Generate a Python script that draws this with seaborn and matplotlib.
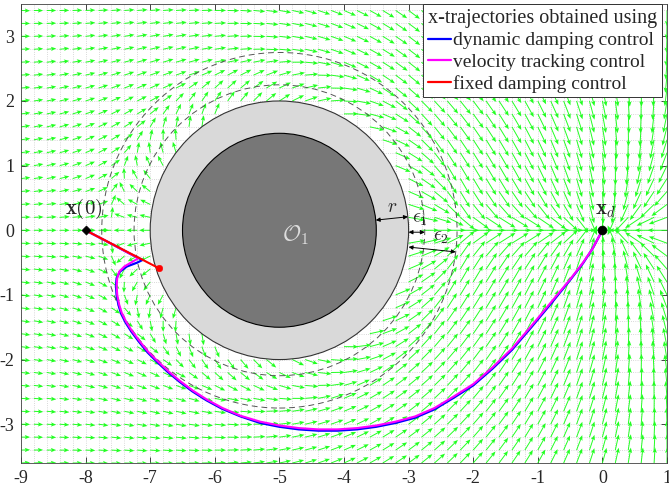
import numpy as np
import matplotlib
matplotlib.use('Agg')
import matplotlib.pyplot as plt
import seaborn as sns
from matplotlib.patches import Circle

# ---- scene ----
goal = (0.0, 0.0)
start = (-8.0, 0.0)
obs_center = (-5.0, 0.0)
r_core = 1.5      # dark disc
r_obs = 2.0       # light grey disc (radius r)
r_eps1 = 2.25     # r + eps1
r_eps2 = 2.75     # r + eps2

# ---- trajectories ----
dyn_x = [-8.0, -7.6, -7.3, -7.12, -7.2, -7.36, -7.47, -7.52, -7.53, -7.52, -7.49, -7.45,
         -7.38, -7.29, -7.17, -7.04, -6.89, -6.73, -6.55, -6.35, -6.13, -5.89, -5.6, -5.3,
         -5.0, -4.7, -4.4, -4.1, -3.8, -3.5, -3.2, -2.9, -2.6, -2.3, -2.0, -1.7, -1.4,
         -1.1, -0.8, -0.5, -0.3, -0.15, 0.0]
dyn_y = [0.0, -0.21, -0.37, -0.46, -0.50, -0.56, -0.64, -0.74, -0.86, -1.01, -1.16, -1.29,
         -1.43, -1.57, -1.73, -1.89, -2.04, -2.19, -2.34, -2.49, -2.63, -2.76, -2.88, -2.98,
         -3.04, -3.08, -3.10, -3.10, -3.08, -3.04, -2.98, -2.90, -2.77, -2.59, -2.40, -2.14,
         -1.85, -1.50, -1.14, -0.77, -0.51, -0.28, 0.0]
vel_x = [-8.0, -7.6, -7.3, -7.18, -7.28, -7.40, -7.48, -7.51, -7.52, -7.51, -7.48, -7.44,
         -7.37, -7.28, -7.16, -7.03, -6.88, -6.72, -6.54, -6.34, -6.12, -5.88, -5.6, -5.3,
         -5.0, -4.7, -4.4, -4.1, -3.8, -3.5, -3.2, -2.9, -2.6, -2.3, -2.0, -1.7, -1.4,
         -1.1, -0.8, -0.5, -0.3, -0.15, 0.0]
vel_y = [0.0, -0.21, -0.37, -0.43, -0.49, -0.56, -0.64, -0.74, -0.86, -1.00, -1.15, -1.28,
         -1.42, -1.56, -1.72, -1.88, -2.03, -2.18, -2.33, -2.48, -2.62, -2.75, -2.87, -2.96,
         -3.02, -3.06, -3.08, -3.08, -3.06, -3.02, -2.96, -2.88, -2.75, -2.57, -2.38, -2.12,
         -1.83, -1.48, -1.12, -0.76, -0.50, -0.28, 0.0]
fix_x = [-8.0, -6.86]
fix_y = [0.0, -0.59]

legend_title = 'x-trajectories obtained using'
labels = ['dynamic damping control', 'velocity tracking control', 'fixed damping control']
colors = ['#0000ff', '#ff00ff', '#ff0000']
x_ticks = list(range(-9, 2))
y_ticks = list(range(-3, 4))

# quiver grid
grid_x = np.arange(-9.0, 1.001, 0.2)
grid_y = np.arange(-3.6, 3.401, 0.2)
k_rep = 1.2


def nav_field(X, Y):
    # attraction to goal, modulated around the obstacle, pushed out inside the eps2 band
    gx, gy = goal[0] - X, goal[1] - Y
    dg = np.hypot(gx, gy)
    ds = np.where(dg < 1e-9, 1.0, dg)
    ux, uy = gx / ds, gy / ds
    cx, cy = X - obs_center[0], Y - obs_center[1]
    dc = np.hypot(cx, cy)
    nx, ny = cx / dc, cy / dc
    tx, ty = ny, -nx
    a = ux * nx + uy * ny
    b = ux * tx + uy * ty
    gam = dc / r_obs
    vr = (1 - 1 / gam) * a + k_rep * np.clip((r_eps2 - dc) / (r_eps2 - r_obs), 0, None)
    vt = (1 + 1 / gam) * b
    vx = vr * nx + vt * tx
    vy = vr * ny + vt * ty
    n = np.hypot(vx, vy)
    L = 0.3 / (1 + 0.15 * np.clip(dg - 2, 0, None))
    U, V = vx / n * L, vy / n * L
    bad = (dc < r_obs) | (dg < 1e-9)
    U[bad] = np.nan
    V[bad] = np.nan
    return U, V


sns.set_style('ticks')
plt.rcParams['font.family'] = ['Liberation Serif', 'DejaVu Serif']
plt.rcParams['mathtext.fontset'] = 'cm'
plt.rcParams['axes.unicode_minus'] = False

fig = plt.figure(figsize=(6.69, 4.87), dpi=100)
ax = fig.add_axes([21 / 669, 24 / 487, 646 / 669, 459 / 487])

X, Y = np.meshgrid(grid_x, grid_y)
U, V = nav_field(X, Y)
ax.quiver(X, Y, U, V, angles='xy', scale_units='xy', scale=1, color='#22ff22',
          width=0.0015, headwidth=4.5, headlength=5.5, headaxislength=4.5, zorder=1)

# obstacle
ax.add_patch(Circle(obs_center, r_eps2, fill=False, ec='#555555', lw=0.7, ls=(0, (6, 4)), zorder=2))
ax.add_patch(Circle(obs_center, r_eps1, fill=False, ec='#555555', lw=0.7, ls=(0, (6, 4)), zorder=2))
ax.add_patch(Circle(obs_center, r_obs, fc='#d9d9d9', ec='#333333', lw=0.8, zorder=3))
ax.add_patch(Circle(obs_center, r_core, fc='#777777', ec='black', lw=0.8, zorder=3))
ax.text(-4.75, -0.08, r'$\mathcal{O}_1$', color='#dddddd', fontsize=16, ha='center', va='center', zorder=4)

# dimension arrows
arr = dict(arrowstyle='<|-|>', color='k', lw=0.7, mutation_scale=6, shrinkA=0, shrinkB=0)
th = np.deg2rad(6)
ax.annotate('', xy=(obs_center[0] + r_obs * np.cos(th), r_obs * np.sin(th)),
            xytext=(obs_center[0] + r_core * np.cos(th), r_core * np.sin(th)), arrowprops=arr, zorder=4)
ax.annotate('', xy=(obs_center[0] + r_eps1, -0.03), xytext=(obs_center[0] + r_obs, -0.03), arrowprops=arr, zorder=4)
th2 = np.deg2rad(-7)
ax.annotate('', xy=(obs_center[0] + r_eps2 * np.cos(th2), r_eps2 * np.sin(th2)),
            xytext=(obs_center[0] + r_obs, -0.26), arrowprops=arr, zorder=4)
ax.text(-3.26, 0.35, r'$r$', fontsize=14, ha='center', va='center', zorder=4)
ax.text(-2.83, 0.16, r'$\epsilon_1$', fontsize=14, ha='center', va='center', zorder=4)
ax.text(-2.5, -0.11, r'$\epsilon_2$', fontsize=14, ha='center', va='center', zorder=4)

# trajectories
sns.lineplot(x=dyn_x, y=dyn_y, sort=False, estimator=None, color=colors[0], lw=1.6, ax=ax, zorder=5)
sns.lineplot(x=vel_x, y=vel_y, sort=False, estimator=None, color=colors[1], lw=1.5, ax=ax, zorder=5)
sns.lineplot(x=fix_x, y=fix_y, sort=False, estimator=None, color=colors[2], lw=1.5, ax=ax, zorder=5)
sns.scatterplot(x=[fix_x[-1]], y=[fix_y[-1]], color=colors[2], edgecolor=colors[2], s=22, ax=ax, zorder=6)
sns.scatterplot(x=[start[0]], y=[start[1]], marker='D', color='k', edgecolor='k', s=22, ax=ax, zorder=6)
sns.scatterplot(x=[goal[0]], y=[goal[1]], color='k', edgecolor='k', s=40, ax=ax, zorder=6)
ax.text(-8.03, 0.33, r'$\mathbf{x}(0)$', fontsize=15, ha='center', va='center', zorder=6)
ax.text(0.05, 0.31, r'$\mathbf{x}_d$', fontsize=15, ha='center', va='center', zorder=6)

handles = [plt.Line2D([], [], color=c, lw=1.6) for c in colors]
leg = ax.legend(handles, labels, title=legend_title, loc='upper right', bbox_to_anchor=(0.992, 1.0),
                borderaxespad=0, fontsize=14, title_fontsize=14.5, handlelength=1.2, handletextpad=0.1,
                borderpad=0.25, labelspacing=0.2, fancybox=False, framealpha=1, edgecolor='#333333')
leg.get_frame().set_linewidth(0.7)
leg._legend_box.align = 'left'
leg.set_zorder(10)

ax.set_xlim(-9, 1)
ax.set_ylim(-3.6, 3.5)
ax.set_xticks(x_ticks)
ax.set_yticks(y_ticks)
ax.set_xticks(np.arange(-9, 1.01, 0.2), minor=True)
ax.set_yticks(np.arange(-3.6, 3.51, 0.2), minor=True)
ax.grid(which='both', color='#cccccc', ls=':', lw=0.6)
ax.set_axisbelow(True)
ax.tick_params(which='major', direction='in', top=True, right=True, length=4, width=0.6,
               labelsize=13, colors='#262626', pad=5)
ax.tick_params(which='minor', length=0)
for s in ax.spines.values():
    s.set_color('#404040')
    s.set_linewidth(0.6)

fig.savefig('out.png', dpi=100)
